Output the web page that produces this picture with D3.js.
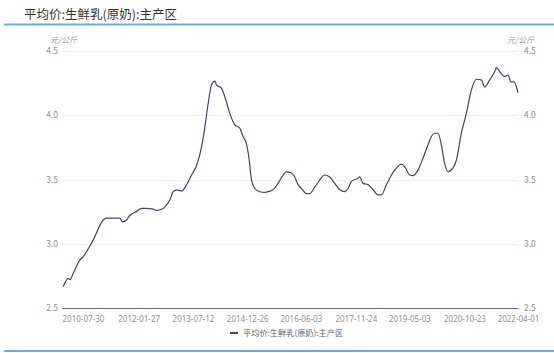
<!DOCTYPE html>
<html>
<head>
<meta charset="utf-8">
<script src="https://cdn.jsdelivr.net/npm/d3@7"></script>
<style>
  body { margin: 0; background: #fff; }
  svg { display: block; font-family: "Noto Sans CJK SC", "Noto Sans", sans-serif; }
</style>
</head>
<body>
<div id="chart"></div>
<script>
var title = "平均价:生鲜乳(原奶):主产区",
    unit = "元/公斤",
    seriesName = "平均价:生鲜乳(原奶):主产区";

var yTicks = [2.5, 3.0, 3.5, 4.0, 4.5];
var xTickLabels = ["2010-07-30", "2012-01-27", "2013-07-12", "2014-12-26", "2016-06-03",
                   "2017-11-24", "2019-05-03", "2020-10-23", "2022-04-01"];

var dates = [
  "2010-01-18", "2010-03-08", "2010-03-25", "2010-04-26", "2010-07-01", "2010-08-02", "2010-11-08",
  "2011-02-14", "2011-03-18", "2011-06-08", "2011-07-26", "2011-08-22", "2011-09-30", "2011-11-01",
  "2012-01-06", "2012-02-24", "2012-04-13", "2012-06-17", "2012-07-20", "2012-09-23", "2012-10-26",
  "2012-11-27", "2012-12-30", "2013-02-02", "2013-03-24", "2013-05-11", "2013-06-29", "2013-08-17",
  "2013-10-05", "2013-11-06", "2013-12-08", "2014-01-10", "2014-02-12", "2014-02-28", "2014-04-18",
  "2014-05-20", "2014-07-08", "2014-08-26", "2014-10-14", "2014-11-15", "2014-12-18", "2015-01-10",
  "2015-02-06", "2015-03-10", "2015-04-28", "2015-06-16", "2015-08-04", "2015-09-05", "2015-10-24",
  "2015-12-12", "2016-01-14", "2016-03-03", "2016-04-04", "2016-05-07", "2016-06-09", "2016-07-28",
  "2016-08-29", "2016-10-17", "2016-12-05", "2017-01-23", "2017-03-13", "2017-05-01", "2017-06-19",
  "2017-08-08", "2017-09-09", "2017-10-12", "2017-12-16", "2018-01-01", "2018-02-03", "2018-03-24",
  "2018-05-12", "2018-06-30", "2018-08-02", "2018-09-20", "2018-11-08", "2018-12-27", "2019-02-14",
  "2019-03-18", "2019-05-06", "2019-06-08", "2019-07-27", "2019-09-13", "2019-11-01", "2019-12-04",
  "2020-01-05", "2020-02-07", "2020-03-11", "2020-04-12", "2020-05-15", "2020-07-03", "2020-08-05",
  "2020-09-23", "2020-11-11", "2020-12-30", "2021-02-17", "2021-04-07", "2021-05-10", "2021-06-28",
  "2021-08-16", "2021-09-02", "2021-10-04", "2021-11-22", "2021-12-25", "2022-01-20", "2022-02-21",
  "2022-04-01"
];
var prices = [
  2.666, 2.73, 2.72, 2.77, 2.874, 2.90, 3.03,
  3.185, 3.20, 3.20, 3.20, 3.17, 3.185, 3.22,
  3.25, 3.275, 3.275, 3.27, 3.26, 3.275, 3.30,
  3.34, 3.405, 3.42, 3.41, 3.46, 3.535, 3.61,
  3.755, 3.91, 4.09, 4.235, 4.265, 4.235, 4.21,
  4.145, 4.015, 3.925, 3.90, 3.835, 3.78, 3.68,
  3.495, 3.43, 3.405, 3.40, 3.41, 3.42, 3.47,
  3.535, 3.56, 3.55, 3.52, 3.46, 3.43, 3.39,
  3.39, 3.44, 3.495, 3.535, 3.52, 3.47, 3.42,
  3.405, 3.43, 3.485, 3.51, 3.52, 3.47, 3.46,
  3.42, 3.38, 3.38, 3.46, 3.535, 3.59, 3.62,
  3.60, 3.535, 3.53, 3.575, 3.665, 3.77, 3.835,
  3.86, 3.86, 3.77, 3.625, 3.56, 3.59, 3.65,
  3.86, 4.015, 4.195, 4.28, 4.275, 4.22, 4.275,
  4.34, 4.37, 4.34, 4.30, 4.315, 4.26, 4.26,
  4.175
];

var width = 554,
    height = 353,
    margin = {top: 51, right: 36, bottom: 45, left: 62};

var parse = d3.timeParse("%Y-%m-%d");
var data = dates.map(function(d, i) { return {date: parse(d), value: prices[i]}; });

var svg = d3.select("#chart").append("svg")
    .attr("width", width)
    .attr("height", height);

// title + blue rules
svg.append("text")
    .attr("x", 24)
    .attr("y", 19)
    .attr("font-size", "12.5px")
    .attr("fill", "#333")
    .text(title);

svg.append("line")
    .attr("x1", 4).attr("x2", width)
    .attr("y1", 24.5).attr("y2", 24.5)
    .attr("stroke", "#6aaee0")
    .attr("stroke-width", 2);

svg.append("line")
    .attr("x1", 4).attr("x2", width)
    .attr("y1", 351).attr("y2", 351)
    .attr("stroke", "#6aaee0")
    .attr("stroke-width", 2);

var x = d3.scaleTime()
    .domain([parse("2010-01-06"), parse("2022-04-01")])
    .range([margin.left, width - margin.right]);

var y = d3.scaleLinear()
    .domain([2.5, 4.5])
    .range([height - margin.bottom, margin.top]);

// gridlines
svg.append("g")
    .selectAll("line")
    .data(yTicks.slice(1))
    .enter()
        .append("line")
            .attr("x1", margin.left)
            .attr("x2", width - margin.right)
            .attr("y1", d => Math.round(y(d)) + 0.5)
            .attr("y2", d => Math.round(y(d)) + 0.5)
            .attr("stroke", "#efefef");

// left and right y labels
var fmt = d3.format(".1f");
svg.append("g")
    .selectAll("text")
    .data(yTicks)
    .enter()
        .append("text")
            .attr("x", margin.left - 4)
            .attr("y", d => y(d) + 3)
            .attr("text-anchor", "end")
            .attr("font-size", "8.5px")
            .attr("fill", "#909090")
            .text(fmt);

svg.append("g")
    .selectAll("text")
    .data(yTicks)
    .enter()
        .append("text")
            .attr("x", width - margin.right + 6)
            .attr("y", d => y(d) + 3)
            .attr("text-anchor", "start")
            .attr("font-size", "8.5px")
            .attr("fill", "#909090")
            .text(fmt);

// units
svg.append("text")
    .attr("x", 50).attr("y", 43)
    .attr("font-size", "8px")
    .attr("font-style", "italic")
    .attr("fill", "#999")
    .text(unit);

svg.append("text")
    .attr("x", 507).attr("y", 43)
    .attr("font-size", "8px")
    .attr("font-style", "italic")
    .attr("fill", "#999")
    .text(unit);

// x axis
var xAxis = d3.axisBottom(x)
    .tickValues(xTickLabels.map(parse))
    .tickFormat(d3.timeFormat("%Y-%m-%d"))
    .tickSize(0)
    .tickPadding(8);

var gx = svg.append("g")
    .attr("transform", "translate(0," + (y(2.5)) + ")")
    .call(xAxis);
gx.select(".domain").attr("stroke", "#6e6e6e").attr("stroke-width", 1.2);
gx.selectAll("text")
    .attr("font-size", "8px")
    .attr("font-family", "\"Noto Sans\", sans-serif")
    .attr("fill", "#909090");

// the series
var line = d3.line()
    .x(d => x(d.date))
    .y(d => y(d.value))
    .curve(d3.curveMonotoneX);

svg.append("path")
    .datum(data)
    .attr("fill", "none")
    .attr("stroke", "#3b4677")
    .attr("stroke-width", 1.2)
    .attr("d", line);

// legend
var legend = svg.append("g").attr("transform", "translate(230,333)");
legend.append("line")
    .attr("x1", 0).attr("x2", 8)
    .attr("stroke", "#3b4677")
    .attr("stroke-width", 2);
legend.append("text")
    .attr("x", 13)
    .attr("y", 3)
    .attr("font-size", "8.2px")
    .attr("fill", "#666")
    .text(seriesName);
</script>
</body>
</html>
